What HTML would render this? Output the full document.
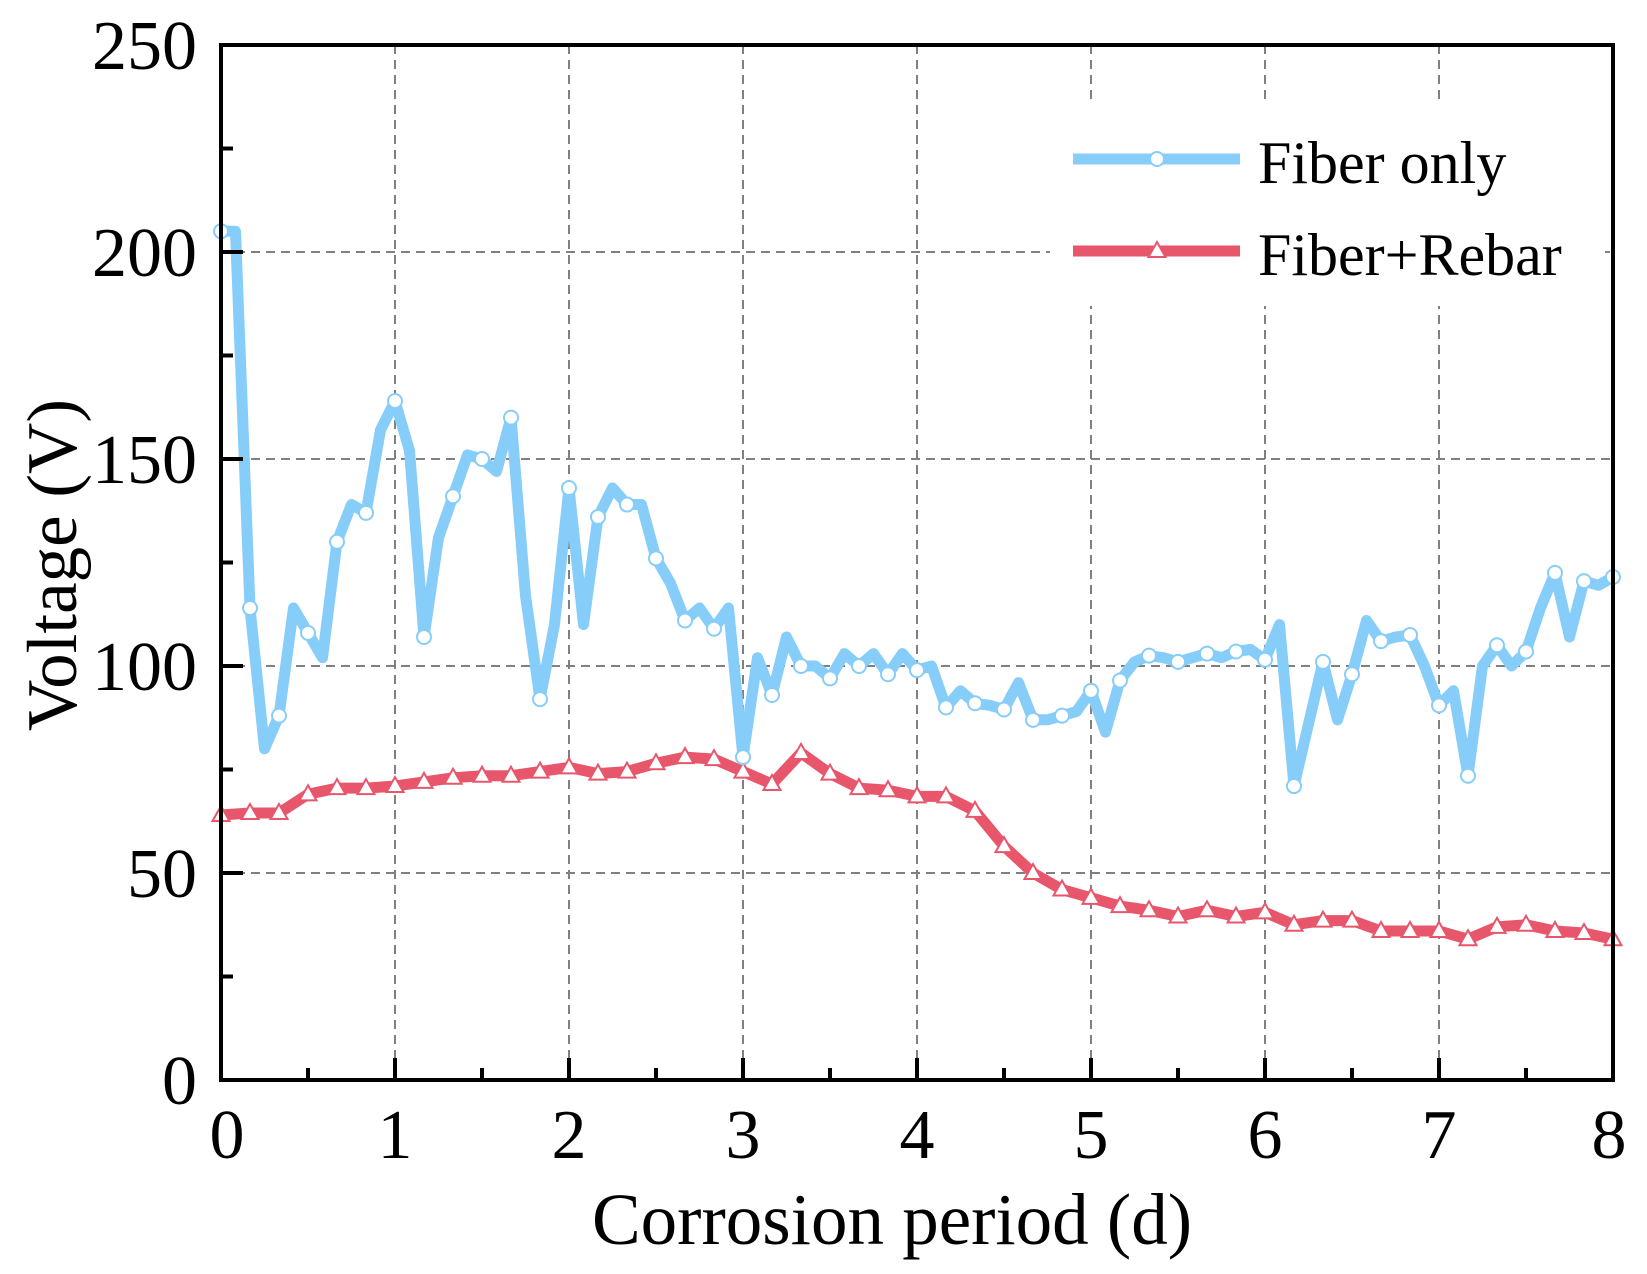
<!DOCTYPE html>
<html><head><meta charset="utf-8"><style>
html,body{margin:0;padding:0;background:#fff;}
svg{display:block;font-family:"Liberation Serif","Times New Roman",serif;}
</style></head><body>
<svg id="chart" width="1647" height="1274" viewBox="0 0 1647 1274" xmlns="http://www.w3.org/2000/svg"></svg>
<script>
const xTicks=[0,1,2,3,4,5,6,7,8];
const yTicks=[0,50,100,150,200,250];
const fiberOnly=[205,205,114,80,88,114,108,102,130,139,137,157,164,152,107,131,141,151,150,147,160,117,92,110,143,110,136,143,139,139,126,120,111,114,109,114,78,102,93,107,100,100,97,103,100,103,98,103,99,100,90,94,91,90.5,89.5,96,87,87,88,89,94,84,96.5,101,102.5,102,101,102,103,102,103.5,104,101.5,110,71,86,101,87,98,111,106,107,107.5,100,90.5,94,73.5,100,105,100,103.5,114,122.5,107,120.5,119.5,121.5];
const fiberRebar=[64,64.5,64.5,69,70.5,70.5,71,72,73,73.5,73.5,74.5,75.5,74,74.5,76.5,78,77.5,74.5,71.5,79,74,70.5,70,68.5,68.5,65,56.5,50,46,44,42,41,39.5,41,39.5,40.5,37.5,38.5,38.5,36,36,36,34,37,37.5,36,35.5,34];
const fiberStep=1/12, rebarStep=1/6;

const L=221,R=1613,T=45,B=1080;
const X=v=>L+(v-0)/8*(R-L);
const Y=v=>B-(v/250)*(B-T);
const svg=document.getElementById('chart');
const NS='http://www.w3.org/2000/svg';
function mk(tag,attrs,parent){const e=document.createElementNS(NS,tag);for(const k in attrs)e.setAttribute(k,attrs[k]);(parent||svg).appendChild(e);return e;}

const grid=mk('g',{});


xTicks.slice(1,-1).forEach(t=>{mk('line',{x1:X(t),x2:X(t),y1:T,y2:B,stroke:'#808080','stroke-width':2,'stroke-dasharray':'9,6'},grid);});
yTicks.slice(1,-1).forEach(t=>{mk('line',{x1:L,x2:R,y1:Y(t),y2:Y(t),stroke:'#808080','stroke-width':2,'stroke-dasharray':'9,6'},grid);});

const lbg=mk('rect',{x:1050,y:100,width:555,height:206,fill:'#fff'});



function series(vals,step,color,name,marker){
  const g=mk('g',{});
  
  
  const pts=vals.map((v,i)=>X(i*step).toFixed(1)+','+Y(v).toFixed(1)).join(' ');
  mk('polyline',{points:pts,fill:'none',stroke:color,'stroke-width':11,'stroke-linejoin':'round','stroke-linecap':'round'},g);
  vals.forEach((v,i)=>{
    const every=step<0.1?2:1;
    if(i%every)return;
    const cx=X(i*step),cy=Y(v);
    let m;
    if(marker==='circle')m=mk('circle',{cx:cx,cy:cy,r:7,fill:'#fff',stroke:color,'stroke-width':2},g);
    else m=mk('polygon',{points:`${cx},${cy-9} ${cx-8.5},${cy+6} ${cx+8.5},${cy+6}`,fill:'#fff',stroke:color,'stroke-width':2},g);
    
    
  });
}
series(fiberRebar,rebarStep,'#E8566C','fiber-rebar-series','tri');
series(fiberOnly,fiberStep,'#87CDFA','fiber-only-series','circle');

const frame=mk('rect',{x:L,y:T,width:R-L,height:B-T,fill:'none',stroke:'#000','stroke-width':4});



xTicks.forEach(t=>{
  mk('line',{x1:X(t),x2:X(t),y1:B,y2:B-22,stroke:'#000','stroke-width':4});
  if(t<8)mk('line',{x1:X(t+0.5),x2:X(t+0.5),y1:B,y2:B-12,stroke:'#000','stroke-width':4});
  const tx=mk('text',{x:X(t)+(t===0?6:(t===8?-4:0)),y:1158,'font-size':70,'text-anchor':'middle',fill:'#000'});
  tx.textContent=t;
  
  
});
yTicks.forEach(t=>{
  mk('line',{x1:L,x2:L+22,y1:Y(t),y2:Y(t),stroke:'#000','stroke-width':4});
  if(t<250)mk('line',{x1:L,x2:L+12,y1:Y(t+25),y2:Y(t+25),stroke:'#000','stroke-width':4});
  const tx=mk('text',{x:197,y:Y(t)+24,'font-size':70,'text-anchor':'end',fill:'#000'});
  tx.textContent=t;
  
  
});

const xt=mk('text',{x:892,y:1244,'font-size':73,'text-anchor':'middle',fill:'#000'});
xt.textContent='Corrosion period (d)';


const yt=mk('text',{x:0,y:0,'font-size':71,'text-anchor':'middle',fill:'#000',transform:'translate(76,565) rotate(-90)'});
yt.textContent='Voltage (V)';



function legend(y,color,label,marker,name){
  const g=mk('g',{});
  
  
  mk('line',{x1:1073,x2:1240,y1:y,y2:y,stroke:color,'stroke-width':11},g);
  if(marker==='circle')mk('circle',{cx:1157,cy:y,r:7,fill:'#fff',stroke:color,'stroke-width':2},g);
  else mk('polygon',{points:`1157,${y-9} 1148.5,${y+6} 1165.5,${y+6}`,fill:'#fff',stroke:color,'stroke-width':2},g);
  const t=mk('text',{x:1258,y:y+24,'font-size':60,fill:'#000'},g);
  t.textContent=label;
}
legend(159,'#87CDFA','Fiber only','circle','legend-entry-fiber-only');
legend(251,'#E8566C','Fiber+Rebar','tri','legend-entry-fiber-rebar');
</script>
</body></html>
